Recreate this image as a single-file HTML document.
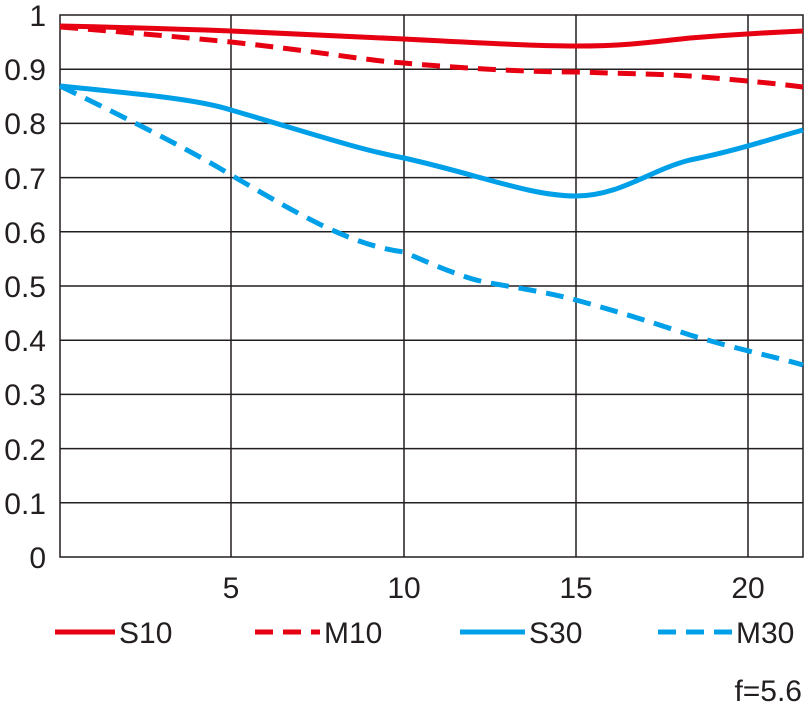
<!DOCTYPE html><html><head><style>body{margin:0;background:#fff}</style></head><body>
<svg width="810" height="707" xmlns="http://www.w3.org/2000/svg" font-family="Liberation Sans, sans-serif" font-size="30" fill="#231f20">
<g stroke="#231f20" stroke-width="1.5" fill="none">
<rect x="60" y="15" width="743" height="542"/>
<path d="M231 15V557M404 15V557M576 15V557M748 15V557"/>
<path d="M60 69.2H803M60 123.4H803M60 177.6H803M60 231.8H803M60 286H803M60 340.2H803M60 394.4H803M60 448.6H803M60 502.8H803"/>
</g>
<g text-anchor="end">
<text x="46" y="26">1</text><text x="46" y="80">0.9</text><text x="46" y="134">0.8</text><text x="46" y="189">0.7</text><text x="46" y="243">0.6</text><text x="46" y="297">0.5</text><text x="46" y="351">0.4</text><text x="46" y="405">0.3</text><text x="46" y="460">0.2</text><text x="46" y="514">0.1</text><text x="46" y="568">0</text>
</g>
<g text-anchor="middle"><text x="231" y="598">5</text><text x="404" y="598">10</text><text x="576" y="598">15</text><text x="748" y="598">20</text></g>
<g fill="none" stroke-width="5">
<path stroke="#e60012" d="M60 26C150 28 231 31 231 31C320 35 404 39 404 39C500 44 540 46 576 46C630 46 660 41 690 38C740 34 780 32 803 31"/>
<path stroke="#e60012" stroke-dasharray="18 10" d="M60 27C150 34 231 42 231 42C330 53 370 61 404 63C480 70 540 72 576 72C640 74 660 74 690 76C740 80 780 84 803 87"/>
<path stroke="#00a0e9" d="M60 86C150 95 200 100 231 110C300 130 360 150 404 158C480 175 530 196 576 196C620 196 650 170 690 160C740 150 780 136 803 130"/>
<path stroke="#00a0e9" stroke-dasharray="18 10" d="M60 86C130 120 190 150 231 175C300 215 350 245 404 252C440 268 470 280 490 283C530 290 550 293 576 300C630 315 660 325 690 335C740 350 780 358 803 365"/>
</g>
<g stroke-width="5">
<path stroke="#e60012" d="M55 632H115"/>
<path stroke="#e60012" stroke-dasharray="18 10" d="M255 632H320"/>
<path stroke="#00a0e9" d="M460 632H525"/>
<path stroke="#00a0e9" stroke-dasharray="18 10" d="M658 632H732"/>
</g>
<text x="119" y="643">S10</text><text x="324" y="643">M10</text><text x="529" y="643">S30</text><text x="736" y="643">M30</text>
<text x="802" y="701" text-anchor="end">f=5.6</text>
</svg></body></html>
